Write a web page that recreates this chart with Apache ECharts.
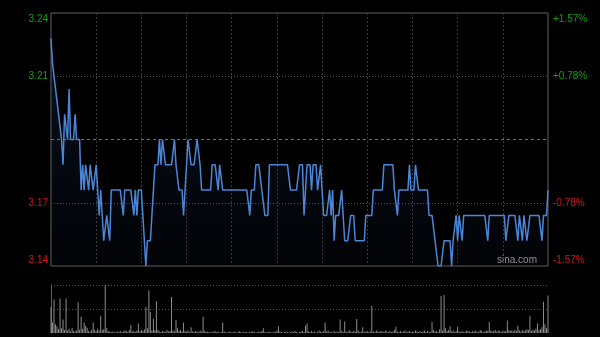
<!DOCTYPE html>
<html><head><meta charset="utf-8">
<script src="https://cdn.jsdelivr.net/npm/echarts@6/dist/echarts.min.js"></script>
<style>html,body{margin:0;padding:0;background:#000;}#c{width:600px;height:337px;}</style>
</head><body><div id="c"></div>
<script>
const prevClose = 3.19;
const priceMin = 3.14;
const priceMax = 3.24;
const leftTickLabels = ['3.14', '3.17', '', '3.21', '3.24'];
const rightTickLabels = ['-1.57%', '-0.78%', '', '+0.78%', '+1.57%'];
const sessions = [['09:30', '12:00'], ['13:01', '16:00']];

const prices = [
3.23,3.22,3.22,3.21,3.21,3.20,3.20,3.19,3.18,3.20,
3.20,3.19,3.21,3.19,3.19,3.19,3.20,3.19,3.19,3.19,
3.17,3.18,3.17,3.18,3.18,3.17,3.18,3.18,3.17,3.17,
3.18,3.18,3.16,3.17,3.16,3.15,3.15,3.16,3.16,3.15,
3.17,3.17,3.17,3.17,3.17,3.17,3.17,3.17,3.16,3.17,
3.17,3.17,3.17,3.17,3.17,3.16,3.17,3.16,3.17,3.17,
3.17,3.16,3.15,3.14,3.15,3.15,3.15,3.16,3.17,3.18,
3.18,3.18,3.19,3.18,3.19,3.19,3.18,3.18,3.18,3.18,
3.18,3.18,3.19,3.18,3.18,3.17,3.17,3.17,3.16,3.17,
3.18,3.19,3.19,3.18,3.18,3.18,3.18,3.19,3.19,3.18,
3.17,3.17,3.17,3.17,3.17,3.17,3.17,3.18,3.18,3.18,
3.18,3.17,3.18,3.18,3.17,3.17,3.17,3.17,3.17,3.17,
3.17,3.17,3.17,3.17,3.17,3.17,3.17,3.17,3.17,3.17,
3.17,3.17,3.16,3.17,3.17,3.17,3.18,3.18,3.18,3.18,
3.17,3.17,3.16,3.16,3.16,3.18,3.18,3.18,3.18,3.18,
3.18,3.18,3.18,3.18,3.18,3.18,3.18,3.18,3.18,3.17,
3.17,3.17,3.17,3.17,3.17,3.18,3.18,3.18,3.16,3.17,
3.18,3.18,3.18,3.17,3.18,3.18,3.18,3.17,3.17,3.18,
3.17,3.16,3.16,3.16,3.16,3.17,3.16,3.17,3.15,3.16,
3.16,3.16,3.16,3.17,3.16,3.15,3.15,3.15,3.15,3.16,
3.16,3.16,3.15,3.15,3.15,3.15,3.15,3.15,3.15,3.16,
3.16,3.16,3.16,3.16,3.17,3.17,3.17,3.17,3.17,3.17,
3.17,3.18,3.18,3.18,3.18,3.18,3.18,3.18,3.17,3.17,
3.16,3.17,3.17,3.17,3.17,3.17,3.17,3.17,3.18,3.17,
3.17,3.17,3.18,3.18,3.17,3.17,3.17,3.17,3.17,3.17,
3.17,3.16,3.16,3.16,3.16,3.15,3.15,3.14,3.14,3.14,
3.14,3.15,3.15,3.15,3.15,3.15,3.14,3.15,3.15,3.16,
3.15,3.16,3.16,3.15,3.16,3.16,3.16,3.16,3.16,3.16,
3.16,3.16,3.16,3.16,3.16,3.16,3.16,3.16,3.16,3.16,
3.15,3.16,3.16,3.16,3.16,3.16,3.16,3.16,3.16,3.16,
3.16,3.16,3.15,3.15,3.16,3.16,3.16,3.16,3.16,3.16,
3.15,3.16,3.16,3.15,3.16,3.16,3.15,3.15,3.16,3.16,
3.16,3.16,3.16,3.16,3.16,3.16,3.15,3.16,3.16,3.16,
3.17
];

const volumes = [
54,22,70,18,14,8,72,10,28,6,
72,5,9,3,11,4,3,5,64,7,
34,9,22,15,11,4,3,6,22,7,
4,9,5,36,6,8,100,10,4,3,
2,3,2,1,3,2,4,2,3,5,
4,2,6,16,3,4,2,5,20,3,
6,4,8,54,10,89,43,5,29,6,
66,7,3,2,4,3,2,6,3,4,
75,5,3,27,10,4,6,3,22,4,
3,5,2,12,3,2,4,3,2,5,
3,34,4,2,3,2,1,3,2,4,
2,3,1,2,22,3,2,1,2,3,
1,2,3,1,2,4,2,1,3,2,
2,1,3,2,4,2,1,2,3,2,
4,10,2,1,3,2,2,1,3,2,
5,14,3,2,1,2,3,2,1,2,
3,2,4,2,1,2,3,4,2,15,
20,3,2,4,2,3,1,2,5,3,
2,4,22,3,5,2,3,1,4,2,
3,2,28,4,2,24,3,2,6,3,
2,4,3,29,5,2,3,12,2,3,
4,2,3,57,3,2,5,3,2,4,
3,2,5,3,2,4,2,3,6,13,
3,2,4,2,3,5,2,3,4,2,
3,2,5,3,2,4,2,3,5,2,
4,3,2,23,6,3,4,2,8,77,
5,79,10,4,6,14,3,5,2,4,
13,3,2,4,2,3,5,4,3,2,
4,3,5,2,3,6,4,2,3,5,
4,23,5,3,4,6,3,5,4,2,
5,3,4,26,6,4,5,3,6,4,
15,5,3,6,4,5,8,6,36,4,
7,5,9,20,6,8,12,65,18,10,
78
];

function buildTimes() {
  const out = [];
  sessions.forEach(function (s) {
    let [h, m] = s[0].split(':').map(Number);
    const [eh, em] = s[1].split(':').map(Number);
    while (h * 60 + m <= eh * 60 + em) {
      out.push(String(h).padStart(2, '0') + ':' + String(m).padStart(2, '0'));
      m++; if (m === 60) { m = 0; h++; }
    }
  });
  return out;
}
const times = buildTimes();

const GREEN = '#12a012', RED = '#d01818';
const FONT = 'Liberation Sans, Arial, sans-serif';
const richStyles = {
  upTop: { color: GREEN, fontSize: 10, fontFamily: FONT, padding: [12, 0, 0, 0] },
  up: { color: GREEN, fontSize: 10, fontFamily: FONT },
  down: { color: RED, fontSize: 10, fontFamily: FONT },
  downBot: { color: RED, fontSize: 10, fontFamily: FONT, padding: [0, 0, 12, 0] }
};
function styleFor(idx) { return idx === 4 ? 'upTop' : idx === 3 ? 'up' : idx === 0 ? 'downBot' : 'down'; }
function makeFormatter(labels) {
  return function (v, idx) {
    const s = labels[idx];
    if (!s) return '';
    return '{' + styleFor(idx) + '|' + s + '}';
  };
}

const chart = echarts.init(document.getElementById('c'), null, { renderer: 'canvas' });
chart.setOption({
  backgroundColor: '#000',
  animation: false,
  grid: [
    { left: 51, right: 52, top: 13, height: 253, show: true, borderColor: '#606060', borderWidth: 1, backgroundColor: 'transparent' },
    { left: 51, right: 52, top: 285, height: 48 }
  ],
  xAxis: [
    {
      type: 'category', gridIndex: 0, data: times, boundaryGap: false,
      axisLine: { show: false }, axisTick: { show: false }, axisLabel: { show: false },
      splitLine: { show: true, interval: function (i) { return i > 0 && i % 30 === 0 && i < times.length - 1; },
        lineStyle: { color: '#3a3a3a', type: [2, 2], width: 1 } }
    },
    {
      type: 'category', gridIndex: 1, data: times, boundaryGap: false,
      axisLine: { show: false }, axisTick: { show: false }, axisLabel: { show: false },
      splitLine: { show: false }
    }
  ],
  yAxis: [
    {
      type: 'value', gridIndex: 0, min: priceMin, max: priceMax, interval: 0.025, position: 'left',
      axisLine: { show: false }, axisTick: { show: false },
      axisLabel: { margin: 3, formatter: makeFormatter(leftTickLabels), rich: richStyles },
      splitLine: { show: true, lineStyle: { color: ['rgba(0,0,0,0)', '#555', 'rgba(0,0,0,0)', '#555', 'rgba(0,0,0,0)'], type: [1, 2], width: 1 } }
    },
    {
      type: 'value', gridIndex: 0, min: priceMin, max: priceMax, interval: 0.025, position: 'right',
      axisLine: { show: false }, axisTick: { show: false },
      axisLabel: { margin: 5, formatter: makeFormatter(rightTickLabels), rich: richStyles },
      splitLine: { show: false }
    },
    {
      type: 'value', gridIndex: 1, min: 0, max: 100, interval: 50,
      axisLine: { show: true, lineStyle: { color: '#606060', width: 1 } }, axisTick: { show: false }, axisLabel: { show: false },
      splitLine: { show: true, lineStyle: { color: ['rgba(0,0,0,0)', '#555', '#555'], type: [1, 2], width: 1 } }
    }
  ],
  series: [
    {
      type: 'line', xAxisIndex: 0, yAxisIndex: 0, data: prices, symbol: 'none', silent: true,
      lineStyle: { color: '#4b86d6', width: 1.5 },
      areaStyle: {
        origin: 'start',
        color: new echarts.graphic.LinearGradient(0, 0, 0, 1, [
          { offset: 0, color: 'rgba(40,80,150,0.32)' },
          { offset: 1, color: 'rgba(20,40,80,0.12)' }
        ])
      },
      markLine: {
        silent: true, symbol: 'none', label: { show: false },
        lineStyle: { color: '#707070', type: [3, 3], width: 1 },
        data: [{ yAxis: prevClose }]
      }
    },
    {
      type: 'bar', xAxisIndex: 1, yAxisIndex: 2, data: volumes, barWidth: 1, silent: true,
      itemStyle: { color: '#8c8c8c' }
    }
  ],
  graphic: [
    { type: 'text', right: 63, top: 255, style: { text: 'sina.com', fill: '#9a9a9a', fontSize: 10, fontFamily: FONT } }
  ]
});
</script>
</body></html>
